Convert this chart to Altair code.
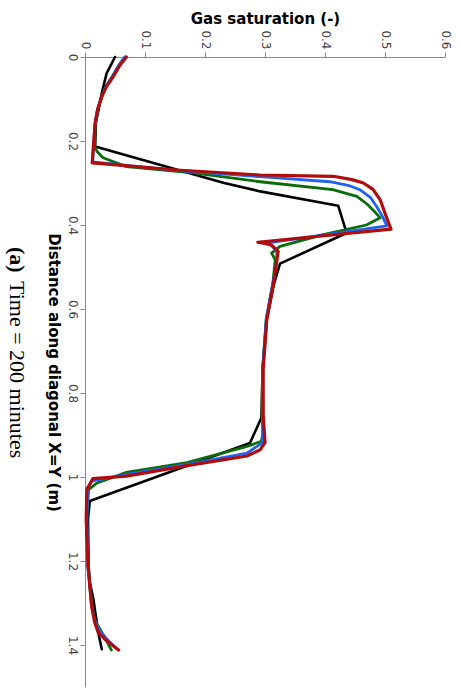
import altair as alt
import pandas as pd

# ---- data (distance in m, gas saturation) ----
series_names = ["Black", "Green", "Blue", "Red"]
series_colors = ["#000000", "#0b6b0b", "#2262ee", "#b00c0c"]
series_widths = [2.6, 2.8, 2.8, 3.2]

dist_black = [0.000, 0.039, 0.086, 0.157, 0.213, 0.300, 0.320, 0.354, 0.419, 0.492,
              0.540, 0.625, 0.744, 0.859, 0.919, 1.057, 1.100, 1.212, 1.250, 1.291,
              1.370, 1.410]
sat_black = [0.050, 0.036, 0.028, 0.018, 0.017, 0.232, 0.292, 0.422, 0.436, 0.325,
             0.315, 0.303, 0.296, 0.294, 0.275, 0.008, 0.005, 0.006, 0.008, 0.014,
             0.022, 0.028]

dist_green = [0.000, 0.020, 0.045, 0.070, 0.094, 0.125, 0.157, 0.210, 0.225, 0.240,
              0.261, 0.276, 0.297, 0.316, 0.332, 0.350, 0.364, 0.383, 0.400, 0.423,
              0.451, 0.467, 0.483, 0.540, 0.625, 0.744, 0.850, 0.891, 0.915, 0.927,
              0.966, 0.989, 1.015, 1.030, 1.100, 1.212, 1.300, 1.340, 1.360, 1.385,
              1.412]
sat_green = [0.067, 0.057, 0.046, 0.035, 0.028, 0.021, 0.017, 0.016, 0.020, 0.030,
             0.069, 0.180, 0.292, 0.413, 0.453, 0.470, 0.480, 0.492, 0.469, 0.397,
             0.325, 0.311, 0.317, 0.313, 0.302, 0.296, 0.295, 0.297, 0.294, 0.270,
             0.170, 0.069, 0.019, 0.006, 0.003, 0.005, 0.011, 0.016, 0.024, 0.034,
             0.044]

dist_blue = [0.000, 0.020, 0.045, 0.070, 0.094, 0.125, 0.157, 0.213, 0.250, 0.270,
             0.285, 0.297, 0.306, 0.316, 0.335, 0.356, 0.380, 0.402, 0.443, 0.450,
             0.465, 0.490, 0.540, 0.625, 0.744, 0.850, 0.918, 0.943, 0.970, 0.994,
             1.010, 1.025, 1.100, 1.212, 1.307, 1.345, 1.365, 1.385, 1.405]
sat_blue = [0.066, 0.056, 0.046, 0.035, 0.028, 0.021, 0.017, 0.014, 0.013, 0.150,
            0.292, 0.408, 0.440, 0.458, 0.476, 0.486, 0.496, 0.503, 0.302, 0.312,
            0.320, 0.319, 0.313, 0.302, 0.296, 0.296, 0.296, 0.270, 0.170, 0.069,
            0.011, 0.005, 0.003, 0.005, 0.011, 0.017, 0.024, 0.036, 0.050]

dist_red = [0.000, 0.020, 0.047, 0.070, 0.094, 0.125, 0.157, 0.213, 0.252, 0.269,
            0.281, 0.284, 0.292, 0.300, 0.315, 0.340, 0.372, 0.410, 0.441, 0.447,
            0.463, 0.491, 0.540, 0.625, 0.744, 0.850, 0.918, 0.935, 0.950, 0.973,
            0.998, 1.004, 1.030, 1.100, 1.212, 1.307, 1.345, 1.370, 1.390, 1.412]
sat_red = [0.069, 0.058, 0.047, 0.036, 0.028, 0.021, 0.017, 0.014, 0.012, 0.153,
           0.292, 0.414, 0.445, 0.464, 0.480, 0.492, 0.500, 0.510, 0.288, 0.310,
           0.322, 0.319, 0.314, 0.303, 0.297, 0.297, 0.300, 0.292, 0.270, 0.170,
           0.069, 0.013, 0.003, 0.002, 0.005, 0.011, 0.016, 0.022, 0.036, 0.056]

sat_ticks = [0, 0.1, 0.2, 0.3, 0.4, 0.5, 0.6]
dist_ticks = [0, 0.2, 0.4, 0.6, 0.8, 1.0, 1.2, 1.4]

x_title = "Gas saturation (-)"
y_title = "Distance along diagonal X=Y (m)"
caption_bold = "(a)"
caption_rest = "Time = 200 minutes"

# ---- build table ----
rows = []
for name, dd, ss in [("Black", dist_black, sat_black), ("Green", dist_green, sat_green),
                     ("Blue", dist_blue, sat_blue), ("Red", dist_red, sat_red)]:
    for i, (d, s) in enumerate(zip(dd, ss)):
        rows.append({"series": name, "dist": d, "sat": s, "idx": i})
df = pd.DataFrame(rows)

x_enc = alt.X(
    "sat:Q",
    scale=alt.Scale(domain=[0, 0.6], nice=False, zero=False),
    axis=alt.Axis(
        orient="top", values=sat_ticks, format="~g", labelAngle=90,
        labelFlush=False, labelOverlap=False, grid=False,
        title=x_title, titleAngle=0, titleX=180, titleY=-34,
        titleAlign="center", titleBaseline="alphabetic",
    ),
)
y_enc = alt.Y(
    "dist:Q",
    scale=alt.Scale(domain=[0, 1.5], nice=False, zero=False, reverse=True),
    axis=alt.Axis(
        orient="left", values=dist_ticks, format="~g", labelAngle=90,
        labelFlush=False, labelOverlap=False, grid=False,
        title=y_title, titleAngle=90, titleX=-37, titleY=315,
        titleAlign="center", titleBaseline="alphabetic",
    ),
)

layers = []
for name, col, w in zip(series_names, series_colors, series_widths):
    layers.append(
        alt.Chart(df[df.series == name])
        .mark_line(color=col, strokeWidth=w, strokeJoin="round", strokeCap="round")
        .encode(x=x_enc, y=y_enc, order="idx:Q")
    )

cap1 = alt.Chart(pd.DataFrame({"t": [caption_bold]})).mark_text(
    angle=90, align="left", baseline="alphabetic", font="Liberation Serif",
    fontSize=22, fontWeight="bold", color="#000000",
).encode(text="t:N", x=alt.value(-75), y=alt.value(190))

cap2 = alt.Chart(pd.DataFrame({"t": [caption_rest]})).mark_text(
    angle=90, align="left", baseline="alphabetic", font="Liberation Serif",
    fontSize=22, color="#000000",
).encode(text="t:N", x=alt.value(-75), y=alt.value(224))

chart = (
    alt.layer(*layers, cap1, cap2)
    .properties(
        width=360, height=630,
        autosize=alt.AutoSizeParams(type="none"),
        padding={"left": 85, "top": 57, "right": 16, "bottom": 1},
        background="white",
    )
    .configure_view(stroke=None)
    .configure_axis(
        labelFont="DejaVu Sans", labelFontSize=12, labelColor="#444444",
        titleFont="DejaVu Sans", titleFontSize=15, titleFontWeight="bold",
        titleColor="#000000", domainColor="#888888", tickColor="#888888",
        tickSize=5, labelPadding=3,
    )
)

chart.save("out.html", embed_options={"renderer": "svg", "actions": False})
